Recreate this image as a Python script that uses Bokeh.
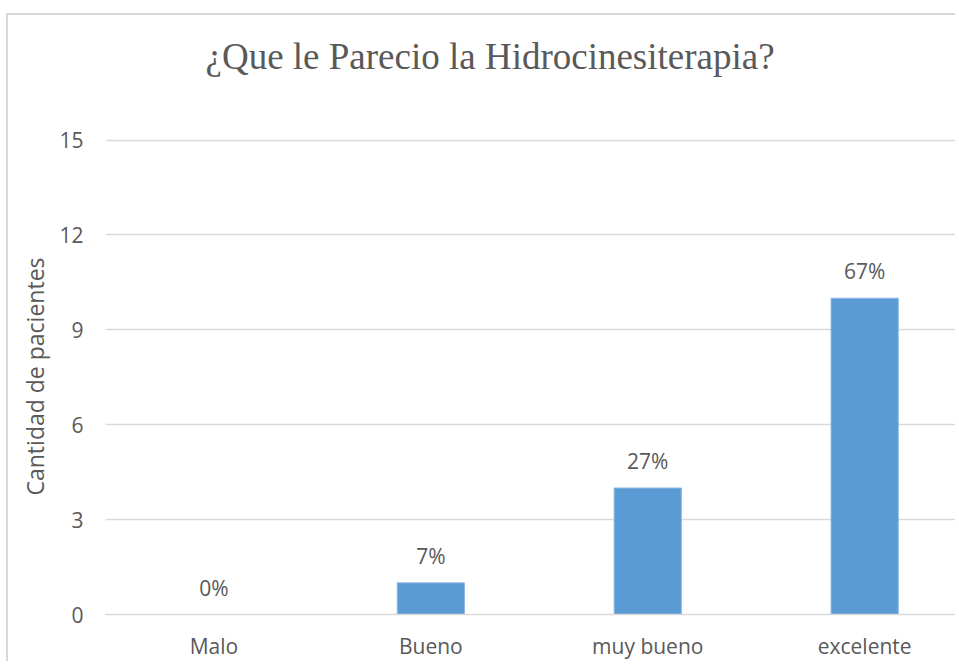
from bokeh.plotting import figure
from bokeh.models import ColumnDataSource, LabelSet, Range1d, FixedTicker, Title
from bokeh.core.properties import value
from bokeh.embed import file_html
from bokeh.resources import INLINE

categories = ["Malo", "Bueno", "muy bueno", "excelente"]
counts = [0, 1, 4, 10]
percent_labels = ["0%", "7%", "27%", "67%"]
y_ticks = [0, 3, 6, 9, 12, 15]
title_text = "¿Que le Parecio la Hidrocinesiterapia?"

positions = [i + 0.5 for i in range(len(categories))]
src = ColumnDataSource(dict(x=positions, top=counts, lab=percent_labels, cat=categories))

GRAY = "#595959"
GRID = "#d9d9d9"
FONT = "Open Sans"
FS = "21px"

p = figure(width=949, height=648, output_backend="svg", toolbar_location=None,
           x_range=Range1d(0, 3.928), y_range=Range1d(0, 15.05),
           min_border_left=97, min_border_right=0, min_border_top=0, min_border_bottom=49)
p.background_fill_color = "white"
p.border_fill_color = "white"
p.outline_line_color = None
p.styles = {"border-left": "2px solid #d9d9d9", "border-top": "2px solid #d9d9d9",
            "margin-top": "13px", "margin-left": "6px"}

p.vbar(x="x", top="top", width=0.31, source=src, fill_color="#5B9BD5", line_color="#8fb9e3", line_width=1)

labels = LabelSet(x="x", y="top", text="lab", source=src, y_offset=19, text_align="center",
                  text_baseline="alphabetic", text_font=value(FONT), text_font_size=FS, text_color=GRAY)
p.add_layout(labels)

# empty spacer between frame and title, then the title itself
p.title.text = ""
p.add_layout(Title(text=" ", text_font_size="10px", standoff=31), "above")
p.add_layout(Title(text=title_text, text_font="Liberation Serif", text_font_size="37px",
                   text_font_style="normal", text_color=GRAY, align="left", offset=100,
                   standoff=36), "above")

p.xgrid.visible = False
p.ygrid.grid_line_color = GRID
p.ygrid.grid_line_width = 1.5

xa = p.xaxis[0]
xa.ticker = FixedTicker(ticks=positions)
xa.major_label_overrides = {pos: c for pos, c in zip(positions, categories)}
xa.major_tick_line_color = None
xa.minor_tick_line_color = None
xa.axis_line_color = GRID
xa.axis_line_width = 1.5
xa.major_label_text_font = FONT
xa.major_label_text_font_size = FS
xa.major_label_text_color = GRAY
xa.major_label_standoff = 11

ya = p.yaxis[0]
ya.ticker = FixedTicker(ticks=y_ticks)
ya.axis_line_color = None
ya.major_tick_line_color = None
ya.minor_tick_line_color = None
ya.major_label_text_font = FONT
ya.major_label_text_font_size = FS
ya.major_label_text_color = GRAY
ya.major_label_standoff = 16
ya.axis_label = "Cantidad de pacientes"
ya.axis_label_text_font = FONT
ya.axis_label_text_font_size = "23px"
ya.axis_label_text_font_style = "normal"
ya.axis_label_text_color = GRAY
ya.axis_label_standoff = 5

open("out.html", "w").write(file_html(p, INLINE))
